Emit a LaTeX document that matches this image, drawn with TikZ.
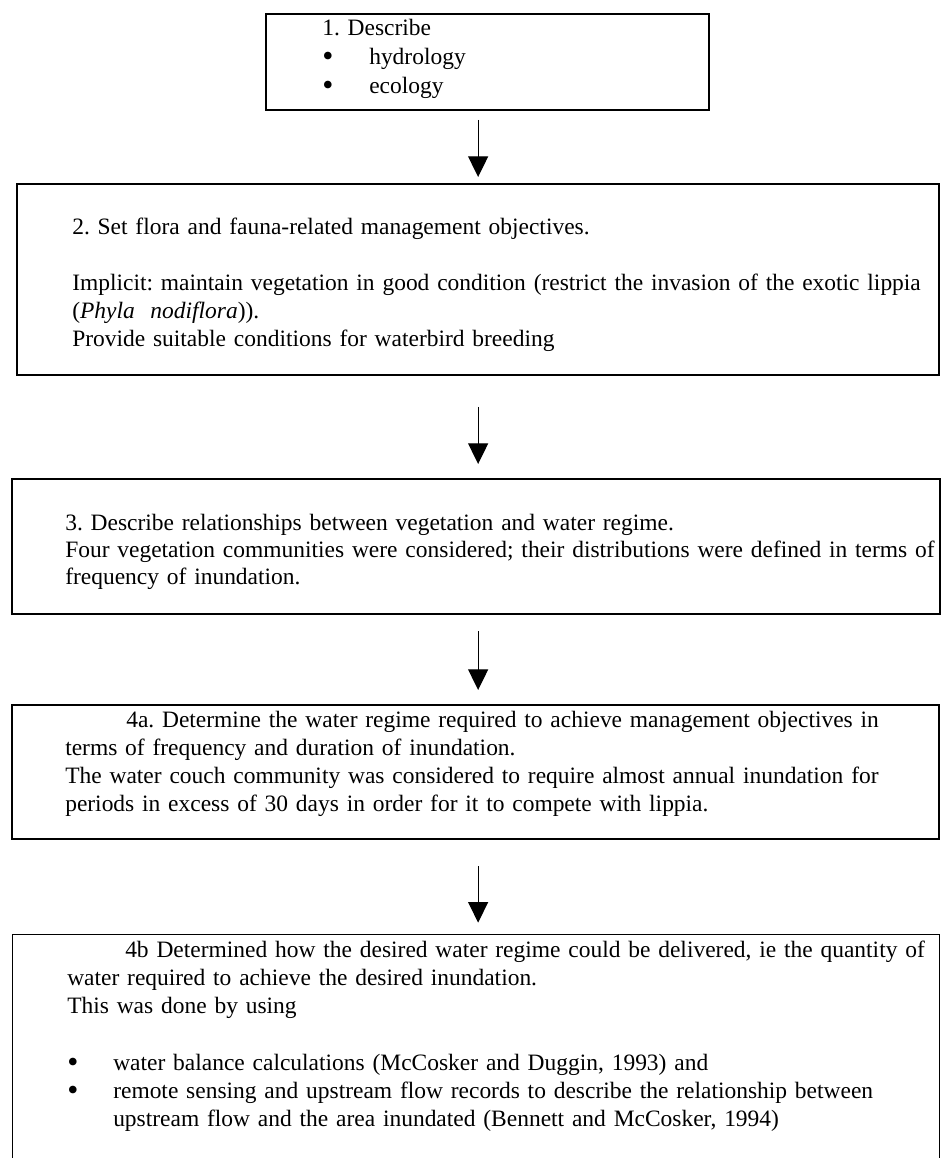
\documentclass[tikz,border=0pt]{standalone}
\usepackage{fontspec}
\setmainfont{Liberation Serif}
\usetikzlibrary{arrows.meta}
\newcommand\listdot{\raisebox{-1.5pt}{\scalebox{1.35}{\textbullet}}}

\begin{document}
\frenchspacing
\begin{tikzpicture}[
  x=0.75pt, y=-0.75pt,
  every node/.style={font=\fontsize{17.6}{21}\selectfont},
  frame/.style={draw, line width=1.7pt, anchor=north west, inner sep=0pt},
  thinframe/.style={frame, line width=1.1pt},
  txt/.style={anchor=base west, inner sep=0pt, text width=690pt, align=left},
  arrow/.style={-{Triangle[length=15.5pt, width=15pt]}, line width=0.9pt},
]
\useasboundingbox (0,0) rectangle (944,1158);
\clip (0,0) rectangle (944,1158);

% frames
\node[frame, minimum width=332.25pt, minimum height=72pt]     (box1)  at (265,13)  {};
\node[frame, minimum width=691.5pt,  minimum height=143.25pt] (box2)  at (16,183)  {};
\node[frame, minimum width=696pt,    minimum height=101.25pt] (box3)  at (11,478)  {};
\node[frame, minimum width=695.25pt, minimum height=100.5pt]  (box4a) at (11,704)  {};
\node[thinframe, minimum width=695.25pt, minimum height=195pt] (box4b) at (12,934) {};

% texts
\node[txt, font=\fontsize{17.6}{22}\selectfont] (desc) at (322,35) {1. Describe\\
  \makebox[35.25pt][l]{\listdot}hydrology\\
  \makebox[35.25pt][l]{\listdot}ecology};
\node[txt] (objectives) at (72,234) {2. Set flora and fauna-related management objectives.\\[21.5pt]
  Implicit: maintain vegetation in good condition (restrict the invasion of the exotic lippia\\
  (\textit{Phyla\ \ nodiflora})).\\
  Provide suitable conditions for waterbird breeding};
\node[txt, font=\fontsize{17.6}{20.6}\selectfont] (relations) at (65,530) {3. Describe relationships between vegetation and water regime.\\
  Four vegetation communities were considered; their distributions were defined in terms of\\
  frequency of inundation.};
\node[txt] (regime) at (65,727) {\hspace*{45.75pt}4a. Determine the water regime required to achieve management objectives in\\
  terms of frequency and duration of inundation.\\
  The water couch community was considered to require almost annual inundation for\\
  periods in excess of 30 days in order for it to compete with lippia.};
\node[txt] (delivery) at (67,957) {\hspace*{43.5pt}4b Determined how the desired water regime could be delivered, ie the quantity of\\
  water required to achieve the desired inundation.\\
  This was done by using\\[22pt]
  \makebox[34.5pt][l]{\listdot}water balance calculations (McCosker and Duggin, 1993) and\\
  \makebox[34.5pt][l]{\listdot}remote sensing and upstream flow records to describe the relationship between\\
  \hspace*{34.5pt}upstream flow and the area inundated (Bennett and McCosker, 1994)};

% arrows
\draw[arrow, shorten <=6.5pt, shorten >=4.5pt]  (box1.south -| box2.north) -- (box2.north);
\draw[arrow, shorten <=23pt, shorten >=10.5pt]  (box2.south) -- (box3.north -| box2.south);
\draw[arrow, shorten <=12pt, shorten >=10.5pt]  (box3.south -| box2.south) -- (box4a.north -| box2.south);
\draw[arrow, shorten <=19.5pt, shorten >=8.5pt] (box4a.south -| box2.south) -- (box4b.north -| box2.south);

\end{tikzpicture}
\end{document}
